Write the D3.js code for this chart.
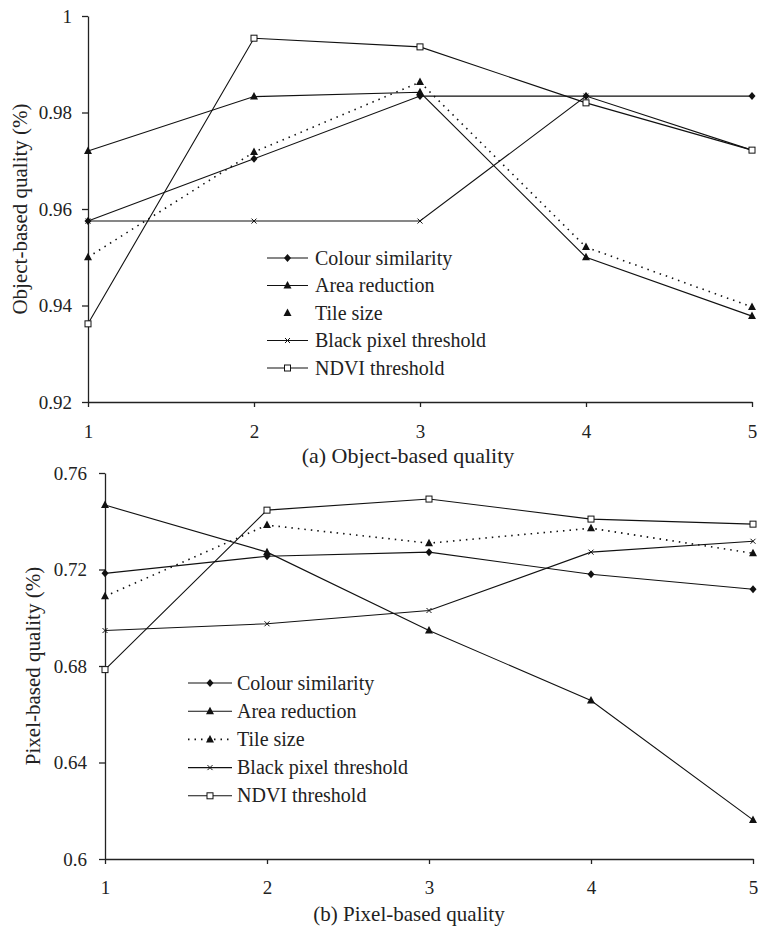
<!DOCTYPE html>
<html><head><meta charset="utf-8">
<script src="https://cdn.jsdelivr.net/npm/d3@7"></script>
<style>
html,body{margin:0;padding:0;background:#fff;}
svg text{font-family:"Liberation Serif","Times New Roman",serif;fill:#222;}
</style></head>
<body>
<svg id="c" width="759" height="926"></svg>
<script>
const xCats = [1, 2, 3, 4, 5];
const seriesNames = ["Colour similarity", "Area reduction", "Tile size", "Black pixel threshold", "NDVI threshold"];
const seriesMarkers = ["diamond", "triangle", "triangle", "cross", "square"];
const seriesDashed = [false, false, true, false, false];

// (a) Object-based quality
const colourA = [0.9575, 0.9704, 0.9834, 0.9834, 0.9834];
const areaA   = [0.9720, 0.9833, 0.9842, 0.9500, 0.9378];
const tileA   = [0.9500, 0.9718, 0.9863, 0.9521, 0.9397];
const blackA  = [0.9575, 0.9575, 0.9575, 0.9834, 0.9722];
const ndviA   = [0.9362, 0.9954, 0.9936, 0.9820, 0.9722];
const yTicksA = [0.92, 0.94, 0.96, 0.98, 1];

// (b) Pixel-based quality
const colourB = [0.7184, 0.7255, 0.7272, 0.7180, 0.7118];
const areaB   = [0.7467, 0.7272, 0.6947, 0.6657, 0.6162];
const tileB   = [0.7089, 0.7384, 0.7309, 0.7371, 0.7267];
const blackB  = [0.6947, 0.6975, 0.7030, 0.7272, 0.7317];
const ndviB   = [0.6785, 0.7446, 0.7492, 0.7409, 0.7388];
const yTicksB = [0.6, 0.64, 0.68, 0.72, 0.76];

const svg = d3.select("#c");
const INK = "#111";

function marker(g, type, x, y) {
  if (type === "diamond") {
    g.append("path").attr("d", `M${x},${y-4}L${x+3.5},${y}L${x},${y+4}L${x-3.5},${y}Z`).attr("fill", INK);
  } else if (type === "triangle") {
    g.append("path").attr("d", `M${x},${y-4.5}L${x+4},${y+3}L${x-4},${y+3}Z`).attr("fill", INK);
  } else if (type === "square") {
    g.append("rect").attr("x", x-3).attr("y", y-3).attr("width", 6).attr("height", 6)
      .attr("fill", "#fff").attr("stroke", INK).attr("stroke-width", 1);
  } else if (type === "cross") {
    g.append("path").attr("d", `M${x-2.5},${y-2.5}L${x+2.5},${y+2.5}M${x-2.5},${y+2.5}L${x+2.5},${y-2.5}`)
      .attr("stroke", INK).attr("stroke-width", 1);
  }
}

function panel(cfg) {
  const x = d3.scaleLinear().domain([1, 5]).range([cfg.x0, cfg.x1]);
  const y = d3.scaleLinear().domain(cfg.yDomain).range([cfg.yBottom, cfg.yTop]);
  const g = svg.append("g");

  const ya = g.append("g").attr("transform", `translate(${cfg.x0},0)`)
    .call(d3.axisLeft(y).tickValues(cfg.yTicks).tickFormat(d3.format("~g")).tickSize(6).tickSizeOuter(0).tickPadding(cfg.yPad));
  const xa = g.append("g").attr("transform", `translate(0,${cfg.yBottom})`)
    .call(d3.axisBottom(x).tickValues(xCats).tickFormat(d3.format("d")).tickSize(5).tickSizeOuter(0).tickPadding(cfg.xPad));
  [ya, xa].forEach(a => {
    a.selectAll("path,line").attr("stroke", "#222").attr("stroke-width", 1.3);
    a.selectAll("text").attr("font-size", 19).attr("font-family", "Liberation Serif").attr("fill", "#333");
  });

  // series
  cfg.data.forEach((vals, i) => {
    const pts = vals.map((v, k) => [x(xCats[k]), y(v)]);
    g.append("path").attr("d", d3.line()(pts)).attr("fill", "none").attr("stroke", INK)
      .attr("stroke-width", seriesDashed[i] ? 1.6 : 1.1)
      .attr("stroke-dasharray", seriesDashed[i] ? "1.5,5" : null);
    pts.forEach(p => marker(g, seriesMarkers[i], p[0], p[1]));
  });

  // y label
  g.append("text").attr("transform", `translate(${cfg.ylabX},${(cfg.yTop + cfg.yBottom) / 2}) rotate(-90)`)
    .attr("text-anchor", "middle").attr("dy", "0.35em").attr("font-size", 21).attr("fill", "#333").text(cfg.ylabel);
  // caption
  g.append("text").attr("x", cfg.capX).attr("y", cfg.capY).attr("text-anchor", "middle")
    .attr("font-size", cfg.capSize).attr("fill", "#333").text(cfg.caption);

  // legend
  const L = cfg.legend;
  seriesNames.forEach((name, i) => {
    const yy = L.y0 + i * L.dy;
    if (!(cfg.tileNoLine && i === 2)) {
      g.append("line").attr("x1", L.lx0).attr("x2", L.lx1).attr("y1", yy).attr("y2", yy)
        .attr("stroke", INK).attr("stroke-width", seriesDashed[i] ? 1.6 : 1.1)
        .attr("stroke-dasharray", seriesDashed[i] ? "1.5,5" : null);
    }
    marker(g, seriesMarkers[i], (L.lx0 + L.lx1) / 2, yy);
    g.append("text").attr("x", L.tx).attr("y", yy).attr("dy", "0.33em").attr("font-size", 20).attr("fill", "#111").text(name);
  });
}

panel({
  x0: 88, x1: 752, yTop: 16, yBottom: 402, yDomain: [0.92, 1], yTicks: yTicksA,
  yPad: 10, xPad: 18, ylabX: 20, ylabel: "Object-based quality (%)",
  capX: 408, capY: 463, capSize: 22, caption: "(a) Object-based quality",
  data: [colourA, areaA, tileA, blackA, ndviA],
  legend: { lx0: 267, lx1: 308, tx: 315, y0: 258, dy: 27.5 },
  tileNoLine: true
});

panel({
  x0: 105, x1: 753, yTop: 473, yBottom: 859, yDomain: [0.6, 0.76], yTicks: yTicksB,
  yPad: 12, xPad: 17, ylabX: 33, ylabel: "Pixel-based quality (%)",
  capX: 409, capY: 921, capSize: 21, caption: "(b) Pixel-based quality",
  data: [colourB, areaB, tileB, blackB, ndviB],
  legend: { lx0: 188, lx1: 232, tx: 237, y0: 683, dy: 28.2 },
  tileNoLine: false
});
</script>
</body></html>
